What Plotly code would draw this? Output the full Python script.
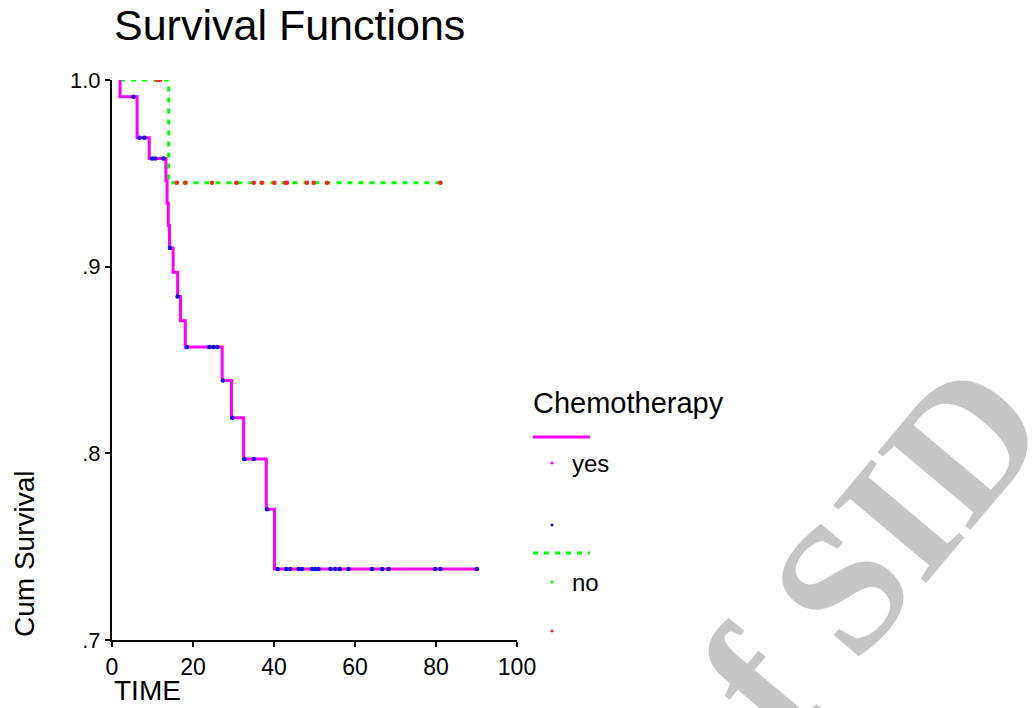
import numpy as np
import plotly.graph_objects as go

# ---- data ----
yes_start, yes_end = 2.0, 90.1
yes_event_time = [2.0, 6.2, 9.2, 13.3, 13.6, 13.9, 14.2, 15.1, 16.2, 16.9, 18.1,
                  27.2, 29.5, 32.5, 38.1, 40.1]
yes_surv = [0.991, 0.969, 0.958, 0.946, 0.934, 0.922, 0.910, 0.897, 0.884, 0.871,
            0.857, 0.839, 0.819, 0.797, 0.770, 0.738]
yes_censor = [5.3, 6.8, 8.0, 9.9, 10.7, 12.7, 14.3, 16.2, 18.5, 24.0, 25.0, 26.0,
              27.4, 29.7, 32.7, 35.0, 38.3, 40.9, 43.0, 44.0, 46.1, 46.9, 49.4,
              50.2, 51.0, 53.9, 55.1, 56.2, 58.4, 64.2, 66.7, 68.3, 79.8, 81.1, 90.1]

no_start, no_end = 2.0, 81.5
no_event_time = [14.0]
no_surv = [0.945]
no_censor = [11.1, 11.9, 16.0, 18.1, 24.7, 30.7, 35.0, 37.0, 40.1, 42.8, 43.2,
             48.1, 49.8, 53.1, 81.1]

x_ticks = [0, 20, 40, 60, 80, 100]
y_ticks = [0.7, 0.8, 0.9, 1.0]
y_tick_text = [".7", ".8", ".9", "1.0"]

groups = ["yes", "no"]

MAGENTA = "#FF00FF"
GREEN = "#00FF00"
BLUE = "#1010E0"
RED = "#FF2020"
FONT = "Liberation Sans, Arial, sans-serif"


def step_xy(start, events, surv, end):
    xs = [start] + list(events) + [end]
    ys = [1.0] + list(surv) + [surv[-1]]
    return xs, ys


def surv_at(t_list, events, surv):
    ev = np.asarray(events)
    sv = np.asarray(surv)
    out = []
    for t in t_list:
        idx = np.searchsorted(ev, t, side="right") - 1
        out.append(1.0 if idx < 0 else float(sv[idx]))
    return out


fig = go.Figure()

yx, yy = step_xy(yes_start, yes_event_time, yes_surv, yes_end)
nx, ny = step_xy(no_start, no_event_time, no_surv, no_end)

fig.add_trace(go.Scatter(x=nx, y=ny, mode="lines", line_shape="hv",
                         line=dict(color=GREEN, width=3, dash="5px,6px"),
                         name=groups[1], hoverinfo="skip"))
fig.add_trace(go.Scatter(x=yx, y=yy, mode="lines", line_shape="hv",
                         line=dict(color=MAGENTA, width=3),
                         name=groups[0], hoverinfo="skip"))
fig.add_trace(go.Scatter(x=no_censor, y=surv_at(no_censor, no_event_time, no_surv),
                         mode="markers", marker=dict(color=RED, size=4.5),
                         name="no censored"))
fig.add_trace(go.Scatter(x=yes_censor, y=surv_at(yes_censor, yes_event_time, yes_surv),
                         mode="markers", marker=dict(color=BLUE, size=4.5),
                         name="yes censored"))

L, R, T, B = 112, 517, 80, 68
W, H = 1034, 708
PW, PH = W - L - R, H - T - B


def px(xp):
    return (xp - L) / PW


def py(yp):
    return (H - B - yp) / PH


annotations = [
    dict(text="Survival Functions", x=px(112), y=py(25), xanchor="left", yanchor="middle",
         font=dict(size=43, color="black", family=FONT)),
    dict(text="TIME", x=px(112), y=py(690), xanchor="left", yanchor="middle",
         font=dict(size=28, color="black", family=FONT)),
    dict(text="Cum Survival", x=px(24), y=py(554), xanchor="center", yanchor="middle",
         textangle=-90, font=dict(size=28, color="black", family=FONT)),
    dict(text="Chemotherapy", x=px(531), y=py(403), xanchor="left", yanchor="middle",
         font=dict(size=29, color="black", family=FONT)),
    dict(text=groups[0], x=px(570), y=py(463), xanchor="left", yanchor="middle",
         font=dict(size=24, color="black", family=FONT)),
    dict(text=groups[1], x=px(570), y=py(582), xanchor="left", yanchor="middle",
         font=dict(size=24, color="black", family=FONT)),
    dict(text="of SID", x=px(842), y=py(585), xanchor="center", yanchor="middle",
         textangle=-50,
         font=dict(size=185, color="#C6C6C6", family="Liberation Serif, Times New Roman, serif",
                   weight="bold")),
]
for a in annotations:
    a.update(xref="paper", yref="paper", showarrow=False)

shapes = [
    dict(type="line", x0=px(533), x1=px(590), y0=py(437), y1=py(437),
         line=dict(color=MAGENTA, width=3)),
    dict(type="line", x0=px(533), x1=px(590), y0=py(553), y1=py(553),
         line=dict(color=GREEN, width=3, dash="5px,6px")),
]
for (cx, cy, col) in [(552, 463, MAGENTA), (552, 525, BLUE), (552, 582, GREEN), (552, 631, RED)]:
    shapes.append(dict(type="circle", x0=px(cx - 1.5), x1=px(cx + 1.5),
                       y0=py(cy + 1.5), y1=py(cy - 1.5),
                       fillcolor=col, line=dict(width=0)))
for s in shapes:
    s.update(xref="paper", yref="paper")

fig.update_layout(
    width=W, height=H,
    margin=dict(l=L, r=R, t=T, b=B, autoexpand=False),
    paper_bgcolor="white", plot_bgcolor="white",
    showlegend=False,
    annotations=annotations,
    shapes=shapes,
    xaxis=dict(range=[0, 100], tickvals=x_ticks, showgrid=False, zeroline=False,
               showline=True, linecolor="black", linewidth=2,
               ticks="outside", ticklen=5, tickwidth=2, tickcolor="black",
               tickfont=dict(size=23, color="black", family=FONT)),
    yaxis=dict(range=[0.7, 1.0], tickvals=y_ticks, ticktext=y_tick_text,
               showgrid=False, zeroline=False,
               showline=True, linecolor="black", linewidth=2,
               ticks="outside", ticklen=5, tickwidth=2, tickcolor="black",
               tickfont=dict(size=22, color="black", family=FONT)),
)

fig.write_html("out.html")
